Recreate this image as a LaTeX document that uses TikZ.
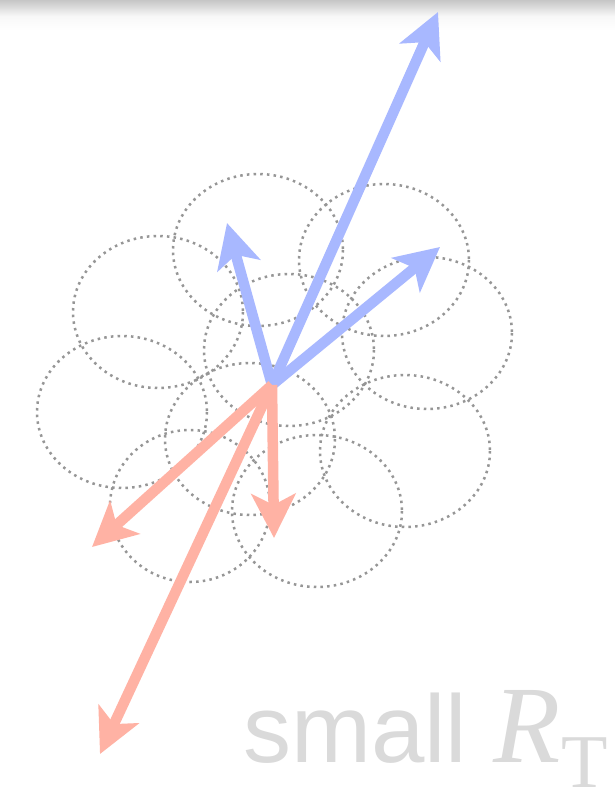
\documentclass[tikz,border=0pt]{standalone}
\usepackage{fontspec}
\setsansfont{Liberation Sans}
\newfontfamily\timesfont{Liberation Serif}
\usetikzlibrary{arrows.meta}
\definecolor{vblue}{RGB}{168,184,255}
\definecolor{vred}{RGB}{255,178,164}
\definecolor{ringgray}{RGB}{150,150,150}
\definecolor{lblgray}{RGB}{218,218,218}
\tikzset{
  ring/.style={draw=ringgray, line width=2.5pt, dash pattern=on 2.5pt off 4.2pt},
  vec/.style={line width=10.5pt, -{Stealth[length=44pt, width=44pt, inset=11pt]}},
  bluevec/.style={vec, draw=vblue, fill=vblue},
  redvec/.style={vec, draw=vred, fill=vred},
}
\begin{document}
\begin{tikzpicture}[x=1pt, y=-1pt]
\useasboundingbox (0,0) rectangle (615,793);
\fill[white] (0,0) rectangle (615,793);
\shade[top color=gray!45, bottom color=gray!6] (0,0) rectangle (615,16);
\shade[top color=gray!6, bottom color=white] (0,16) rectangle (615,30);
% dotted rings
\draw[ring] (158,312) ellipse [x radius=85, y radius=76];
\draw[ring] (258,250) ellipse [x radius=85, y radius=76];
\draw[ring] (384,260) ellipse [x radius=85, y radius=76];
\draw[ring] (427,333) ellipse [x radius=85, y radius=76];
\draw[ring] (289,350) ellipse [x radius=85, y radius=76];
\draw[ring] (122,412) ellipse [x radius=85, y radius=76];
\draw[ring] (250,439) ellipse [x radius=85, y radius=76];
\draw[ring] (405,451) ellipse [x radius=85, y radius=76];
\draw[ring] (190,506) ellipse [x radius=80, y radius=76];
\draw[ring] (317,511) ellipse [x radius=85, y radius=76];
% vectors
\coordinate (o) at (272,385);
\coordinate (b1) at (438,12);
\coordinate (b2) at (227,223);
\coordinate (b3) at (440,247);
\coordinate (r1) at (92,547);
\coordinate (r2) at (274,538);
\coordinate (r3) at (100,754);
\draw[bluevec] (o) -- (b1);
\draw[bluevec] (o) -- (b2);
\draw[bluevec] (o) -- (b3);
\draw[redvec] (o) -- (r1);
\draw[redvec] (o) -- (r2);
\draw[redvec] (o) -- (r3);
% label
\node[anchor=base west, inner sep=0pt, text=lblgray] (lbl) at (243,762)
  {\sffamily\fontsize{96}{100}\selectfont small \timesfont\itshape\fontsize{110}{110}\selectfont R\raisebox{-25pt}{\upshape\fontsize{76}{76}\selectfont T}};
\end{tikzpicture}
\end{document}
